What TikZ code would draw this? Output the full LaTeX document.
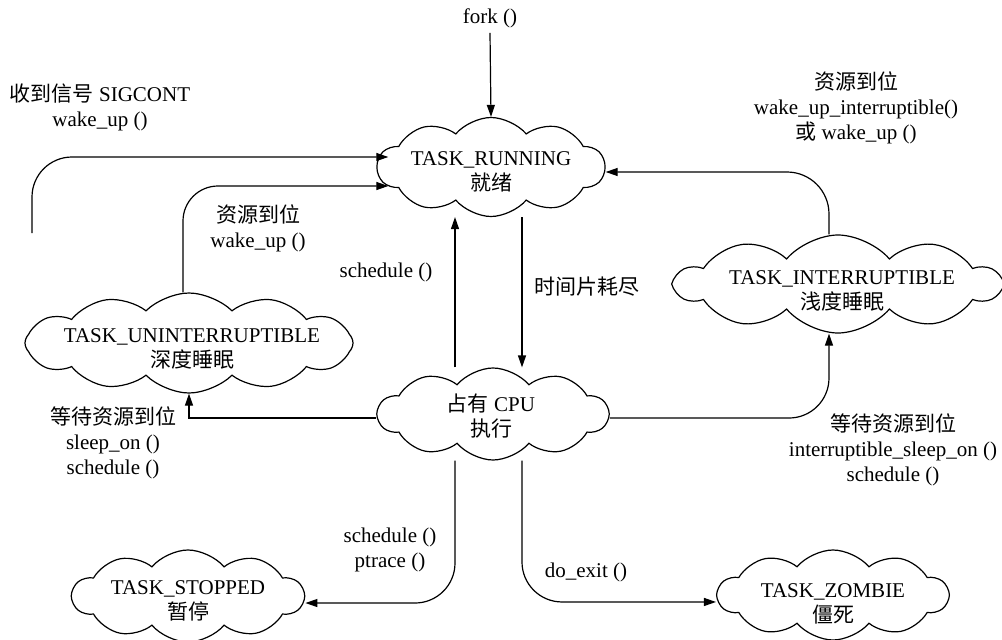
\documentclass[tikz,border=0pt]{standalone}
\usepackage{fontspec}
\setmainfont{Liberation Serif}
\newfontfamily\cjk{Noto Sans CJK SC}
\newcommand{\zh}[1]{{\cjk #1}}
\usetikzlibrary{shapes.symbols,arrows.meta}
\begin{document}
\begin{tikzpicture}[x=1pt,y=-1pt,
  every node/.style={font=\fontsize{21}{25}\selectfont},
  state/.style={cloud, cloud puffs=10, cloud puff arc=100, cloud ignores aspect,
                draw, line width=1.2pt, inner sep=0pt},
  lbl/.style={align=center, inner sep=0pt},
  arr/.style={line width=1.2pt, -{Triangle[length=12pt,width=8pt]}}]
\useasboundingbox (0,0) rectangle (1002,640);

% process states
\node[state, minimum width=227pt, minimum height=99pt] (run) at (491,167) {};
\node[state, cloud puffs=12, cloud puff arc=90, minimum width=328pt, minimum height=100pt] (unint) at (189,343) {};
\node[state, minimum width=230pt, minimum height=92pt] (cpu) at (493,414) {};
\node[state, minimum width=324pt, minimum height=98pt] (intr) at (838,284) {};
\node[state, minimum width=231pt, minimum height=92pt] (stopped) at (188,596) {};
\node[state, minimum width=230pt, minimum height=90pt] (zombie) at (833,595) {};

\node[lbl] (runT) at (491,172) {TASK\_RUNNING\\\zh{就绪}};
\node[lbl] (unintT) at (192,349) {TASK\_UNINTERRUPTIBLE\\\zh{深度睡眠}};
\node[lbl] (cpuT) at (491,416) {\zh{占有} CPU\\\zh{执行}};
\node[lbl] (intrT) at (842,291) {TASK\_INTERRUPTIBLE\\\zh{浅度睡眠}};
\node[lbl] (stoppedT) at (188,601) {TASK\_STOPPED\\\zh{暂停}};
\node[lbl] (zombieT) at (833,604) {TASK\_ZOMBIE\\\zh{僵死}};

% transition labels
\node[lbl] (fork) at (490,18) {fork ()};
\node[lbl] (sigL) at (100,107) {\zh{收到信号} SIGCONT\\wake\_up ()};
\node[lbl] (unintL) at (258,228) {\zh{资源到位}\\wake\_up ()};
\node[lbl] (schL) at (386,272) {schedule ()};
\node[lbl] (sliceL) at (587,287) {\zh{时间片耗尽}};
\node[lbl] (intrL) at (856,108) {\zh{资源到位}\\wake\_up\_interruptible()\\\zh{或} wake\_up ()};
\node[lbl] (waitL) at (113,443) {\zh{等待资源到位}\\sleep\_on ()\\schedule ()};
\node[lbl] (waitR) at (893,450) {\zh{等待资源到位}\\interruptible\_sleep\_on ()\\schedule ()};
\node[lbl] (stopL) at (390,550) {schedule ()\\ptrace ()};
\node[lbl] (exitL) at (586,572) {do\_exit ()};

\coordinate (sig) at (32,233);

% transitions
\draw[arr] ([yshift=-5pt]fork.south) -- (run.north);
\draw[arr, rounded corners=40pt] (sig) |- ([yshift=10pt,xshift=12pt]run.west);
\draw[arr, rounded corners=35pt] ([xshift=-6pt]unint.north) |- ([yshift=-19pt,xshift=12pt]run.west);
\draw[arr] ([xshift=-38pt]cpu.north) -- ([xshift=-36pt]run.south);
\draw[arr] ([xshift=31pt]run.south) -- ([xshift=29pt]cpu.north);
\draw[arr, rounded corners=42pt] ([xshift=-9pt]intr.north) |- ([yshift=-5pt]run.east);
\draw[arr] ([yshift=-4pt]cpu.west) -| (unint.south);
\draw[arr, rounded corners=40pt] ([yshift=-4pt]cpu.east) -| ([xshift=-9pt]intr.south);
\draw[arr, rounded corners=40pt] ([xshift=-38pt]cpu.south) |- ([yshift=-7pt]stopped.east);
\draw[arr, rounded corners=40pt] ([xshift=29pt]cpu.south) |- ([yshift=-7pt]zombie.west);
\end{tikzpicture}
\end{document}
